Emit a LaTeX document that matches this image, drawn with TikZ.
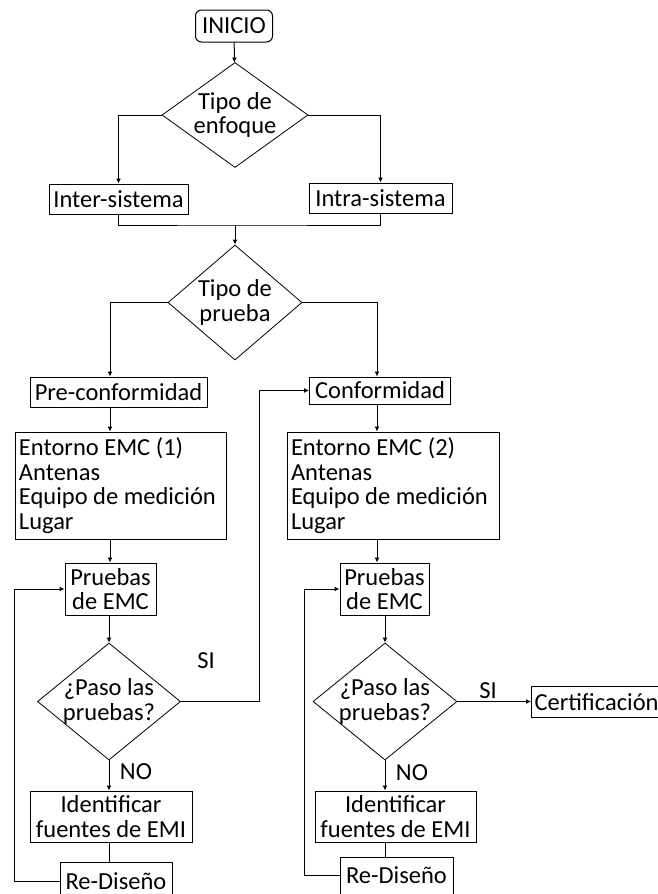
\documentclass[tikz,border=0pt]{standalone}
\usepackage{fontspec}
\setmainfont{Carlito}
\usetikzlibrary{arrows.meta, shapes.geometric}

\begin{document}
\begin{tikzpicture}[x=1pt,y=-1pt,
  every node/.style={font=\fontsize{24.5}{24.7}\selectfont, inner sep=0pt},
  caja/.style={draw, line width=1pt, align=center},
  decision/.style={draw, diamond, line width=0.8pt},
  flecha/.style={line width=1pt, -{Latex[length=5pt,width=5pt]}},
  linea/.style={line width=1pt}]
\useasboundingbox (0,0) rectangle (657,894);
% columnas de las flechas
\coordinate (colL) at (110,0);
\coordinate (colR) at (377,0);
\coordinate (vuelta) at (259,0);
\coordinate (retL) at (14,0);
\coordinate (retR) at (304,0);
\coordinate (union) at (235,225);

% arriba
\node[caja, rounded corners=6pt, minimum width=77pt, minimum height=32pt] (inicio) at (234,26) {INICIO};
\node[decision, minimum width=146pt, minimum height=105pt,
  label={[align=center]center:Tipo de\\enfoque}] (enfoque) at (235,115) {};
\node[caja, minimum width=139pt, minimum height=30pt] (inter) at (118.5,199) {Inter-sistema};
\node[caja, minimum width=143pt, minimum height=30pt] (intra) at (380.5,198) {Intra-sistema};
\node[decision, minimum width=134pt, minimum height=115pt,
  label={[align=center]center:Tipo de\\prueba}] (tprueba) at (235,302.5) {};

% rama izquierda
\node[caja, minimum width=177pt, minimum height=30pt] (pre) at (118.5,392) {Pre-conformidad};
\node[caja, align=flush left, text width=203pt, inner xsep=4pt, minimum height=107pt] (ent1) at (120.5,485.5)
  {Entorno EMC (1)\\Antenas\\Equipo de medición\\Lugar};
\node[caja, minimum width=91pt, minimum height=52pt] (prb1) at (110.5,589) {Pruebas\\de EMC};
\node[decision, minimum width=143pt, minimum height=117pt,
  label={[align=center]center:¿Paso las\\pruebas?}] (paso1) at (109,701.5) {};
\node[caja, minimum width=162pt, minimum height=51pt] (ident1) at (111,816.5) {Identificar\\fuentes de EMI};
\node[caja, minimum width=112pt, minimum height=38pt] (red1) at (116,881) {Re-Diseño};
\node (si1) at (206,661) {SI};
\node (no1) at (136,772) {NO};

% rama derecha
\node[caja, minimum width=141pt, minimum height=27pt] (conf) at (380,390.5) {Conformidad};
\node[caja, align=flush left, text width=204pt, inner xsep=4pt, minimum height=107pt] (ent2) at (393,485.5)
  {Entorno EMC (2)\\Antenas\\Equipo de medición\\Lugar};
\node[caja, minimum width=89pt, minimum height=52pt] (prb2) at (384.5,589) {Pruebas\\de EMC};
\node[decision, minimum width=144pt, minimum height=117pt,
  label={[align=center]center:¿Paso las\\pruebas?}] (paso2) at (385,701.5) {};
\node[caja, minimum width=161pt, minimum height=51pt] (ident2) at (395.5,816.5) {Identificar\\fuentes de EMI};
\node[caja, minimum width=113pt, minimum height=37pt] (red2) at (396.5,875.5) {Re-Diseño};
\node[caja, anchor=west, inner xsep=3pt, minimum height=31pt] (cert) at (531,702) {Certificación};
\node (si2) at (488,691) {SI};
\node (no2) at (412,773) {NO};

% conexiones
\draw[flecha] (inicio) -- (enfoque);
\draw[flecha] (enfoque.west) -| (inter.north);
\draw[flecha] (enfoque.east) -| (intra.north);
\draw[linea] (inter.south) |- (union) -| (intra.south);
\draw[flecha] (union) -- (tprueba.north);
\draw[flecha] (tprueba.west) -| (pre.north -| colL);
\draw[flecha] (tprueba.east) -| (conf.north -| colR);
\draw[flecha] (pre.south -| colL) -- (ent1.north -| colL);
\draw[flecha] (conf.south -| colR) -- (ent2.north -| colR);
\draw[flecha] (ent1.south -| colL) -- (prb1.north -| colL);
\draw[flecha] (ent2.south -| colR) -- (prb2.north -| colR);
\draw[flecha] (prb1.south -| paso1.north) -- (paso1.north);
\draw[flecha] (prb2.south -| paso2.north) -- (paso2.north);
\draw[flecha] (paso1.south) -- (ident1.north -| paso1.south);
\draw[flecha] (paso2.south) -- (ident2.north -| paso2.south);
\draw[linea] (ident1.south -| paso1.south) -- (red1.north -| paso1.south);
\draw[linea] (ident2.south -| paso2.south) -- (red2.north -| paso2.south);
% SI
\draw[flecha] (paso1.east) -- (paso1.east -| vuelta) |- (conf.west);
\draw[flecha] (paso2.east) -- (cert.west |- paso2.east);
% Re-Diseño de vuelta a las pruebas
\draw[flecha] (red1.west) -- (red1.west -| retL) |- (prb1.west);
\draw[flecha] (red2.west) -- (red2.west -| retR) |- (prb2.west);
\end{tikzpicture}
\end{document}
